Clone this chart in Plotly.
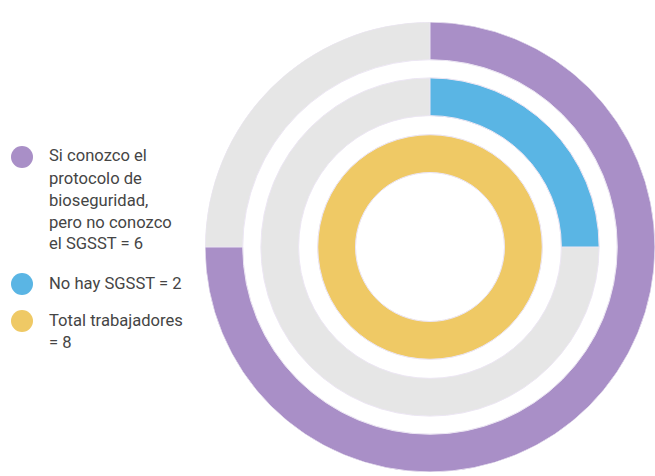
import plotly.graph_objects as go

# ---- data ----
labels = ["Si conozco el protocolo de bioseguridad, pero no conozco el SGSST",
          "No hay SGSST",
          "Total trabajadores"]
values = [6, 2, 8]
total = 8
legend_lines = [["Si conozco el", "protocolo de", "bioseguridad,", "pero no conozco", "el SGSST = 6"],
                ["No hay SGSST = 2"],
                ["Total trabajadores", "= 8"]]
colors = ["#a98fc7", "#5ab5e4", "#efc965"]
track_color = "#e6e6e6"

# ---- geometry / style ----
W, H = 655, 476
ring_base = [191, 134, 76]
ring_thick = 38.5
r_max = 229.5
cx, cy, rad = 430, 247, 225

fig = go.Figure()

# background tracks
fig.add_trace(go.Barpolar(
    r=[ring_thick] * 3, base=ring_base, theta=[180] * 3, width=[360] * 3,
    marker=dict(color=track_color, line=dict(color="#ece6f3", width=1)),
    showlegend=False, hoverinfo="skip"))

# value bars
for i, (lab, v) in enumerate(zip(labels, values)):
    span = v / total * 360
    fig.add_trace(go.Barpolar(
        r=[ring_thick], base=[ring_base[i]], theta=[span / 2], width=[span],
        name=lab, marker=dict(color=colors[i], line=dict(color="#ece6f3", width=1)),
        showlegend=False))

fig.update_layout(
    width=W, height=H,
    margin=dict(l=0, r=0, t=0, b=0),
    paper_bgcolor="white",
    polar=dict(
        domain=dict(x=[(cx - rad) / W, (cx + rad) / W],
                    y=[(H - cy - rad) / H, (H - cy + rad) / H]),
        bgcolor="white",
        barmode="overlay",
        radialaxis=dict(range=[0, r_max], visible=False),
        angularaxis=dict(rotation=90, direction="clockwise", visible=False),
    ),
)

# custom legend
item_y = [156, 283, 320]
line_gap = 22
dot_r = 11
dot_x = 22
text_x = 47
shapes = []
annotations = []
for i, lines in enumerate(legend_lines):
    y0 = item_y[i]
    shapes.append(dict(type="circle", xref="paper", yref="paper",
                       x0=(dot_x - dot_r) / W, x1=(dot_x + dot_r) / W,
                       y0=1 - (y0 + 1 + dot_r) / H, y1=1 - (y0 + 1 - dot_r) / H,
                       fillcolor=colors[i], line=dict(width=0)))
    for j, t in enumerate(lines):
        annotations.append(dict(text=t, xref="paper", yref="paper",
                                x=text_x / W, y=1 - (y0 + j * line_gap) / H,
                                xanchor="left", yanchor="middle", showarrow=False,
                                font=dict(family="Roboto", size=16.6, color="#454545")))
fig.update_layout(shapes=shapes, annotations=annotations)

fig.write_html("out.html", config={"displayModeBar": False},
               post_script="document.body.style.margin='0px';document.body.style.overflow='hidden';")
